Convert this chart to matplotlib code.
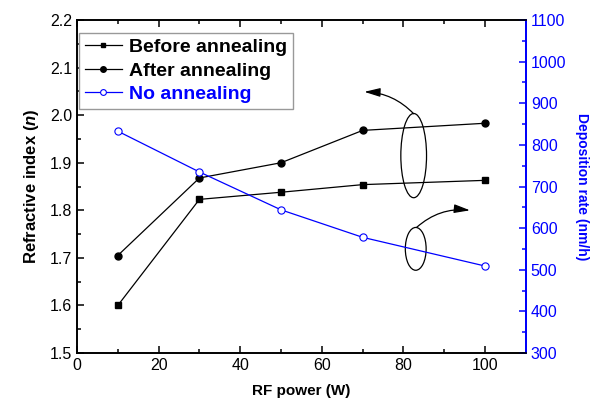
import matplotlib
matplotlib.use("Agg")
import matplotlib.pyplot as plt
from matplotlib.patches import Ellipse
from matplotlib.ticker import MultipleLocator

# Data
rf_power = [10, 30, 50, 70, 100]
before_annealing = [1.60, 1.823, 1.838, 1.854, 1.863]
after_annealing = [1.705, 1.868, 1.900, 1.968, 1.983]
no_annealing_rate = [833, 735, 644, 578, 509]

BLUE = "#0000ff"

plt.rcParams.update({
    "font.family": ["Liberation Sans", "DejaVu Sans"],
    "font.size": 10.5,
    "mathtext.fontset": "custom",
    "mathtext.rm": "Liberation Sans",
    "mathtext.bf": "Liberation Sans:bold",
    "mathtext.bfit": "Liberation Sans:bold:italic",
    "mathtext.it": "Liberation Sans:italic",
    "axes.linewidth": 1.2,
})


def main():
    fig = plt.figure(figsize=(6.08, 4.11), dpi=100)
    ax = fig.add_axes([0.1266, 0.141, 0.7384, 0.8103])
    ax2 = ax.twinx()

    l1, = ax.plot(rf_power, before_annealing, "-s", color="black", lw=0.9,
                  ms=4.3, label="Before annealing")
    l2, = ax.plot(rf_power, after_annealing, "-o", color="black", lw=0.9,
                  ms=5, label="After annealing")
    l3, = ax2.plot(rf_power, no_annealing_rate, "-o", color=BLUE, lw=0.9,
                   ms=5.2, mfc="white", mec=BLUE, mew=0.8, label="No annealing")

    ax.set_xlim(0, 110)
    ax.set_ylim(1.5, 2.2)
    ax2.set_ylim(300, 1100)

    ax.xaxis.set_major_locator(MultipleLocator(20))
    ax.xaxis.set_minor_locator(MultipleLocator(10))
    ax.yaxis.set_major_locator(MultipleLocator(0.1))
    ax.yaxis.set_minor_locator(MultipleLocator(0.05))
    ax2.yaxis.set_major_locator(MultipleLocator(100))
    ax2.yaxis.set_minor_locator(MultipleLocator(50))
    ax.yaxis.set_major_formatter(plt.FormatStrFormatter("%.1f"))

    ax.tick_params(which="both", direction="in", top=True, right=False,
                   labelsize=11.5, width=1.1)
    ax.tick_params(which="major", length=5)
    ax.tick_params(which="minor", length=3)
    ax2.tick_params(which="both", direction="in", colors=BLUE,
                    labelsize=11.5, width=1.1)
    ax2.tick_params(which="major", length=5)
    ax2.tick_params(which="minor", length=3)
    ax2.spines["right"].set_color(BLUE)
    ax2.spines["right"].set_linewidth(1.4)

    ax.set_xlabel("RF power (W)", fontweight="bold", fontsize=11, labelpad=8)
    ax.set_ylabel(r"Refractive index ($\mathbfit{n}$)", fontweight="bold",
                  fontsize=12, labelpad=6)
    ax2.set_ylabel("Deposition rate (nm/h)", fontweight="bold", fontsize=10,
                   color=BLUE, rotation=270, labelpad=16)

    leg = ax.legend(handles=[l1, l2, l3], loc="upper left",
                    bbox_to_anchor=(0.004, 0.962), prop={"weight": "bold", "size": 14},
                    handlelength=1.9, handletextpad=0.4, labelspacing=0.3,
                    borderpad=0.3, fancybox=False, framealpha=1, markerscale=0.8,
                    edgecolor="#999999", borderaxespad=0)
    leg.get_frame().set_linewidth(1.0)
    for txt in leg.get_texts():
        if txt.get_text() == "No annealing":
            txt.set_color(BLUE)

    # Ellipses grouping the series and arrows pointing at their axes
    ax.add_patch(Ellipse((82.5, 1.915), 6.3, 0.177, fill=False, ec="black", lw=0.9))
    ax.add_patch(Ellipse((83.0, 1.719), 5.1, 0.090, fill=False, ec="black", lw=0.9))
    head = "-|>,head_length=0.8,head_width=0.22"
    ax.annotate("", xy=(70.4, 2.049), xytext=(82.5, 2.003),
                arrowprops=dict(arrowstyle=head, color="black", lw=0.9,
                                shrinkA=0, shrinkB=0, mutation_scale=12,
                                connectionstyle="arc3,rad=0.2"))
    ax.annotate("", xy=(96.3, 1.800), xytext=(83.2, 1.764),
                arrowprops=dict(arrowstyle=head, color="black", lw=0.9,
                                shrinkA=0, shrinkB=0, mutation_scale=12,
                                connectionstyle="arc3,rad=-0.22"))

    fig.savefig("out.png", dpi=100)
    plt.close(fig)


if __name__ == "__main__":
    main()
